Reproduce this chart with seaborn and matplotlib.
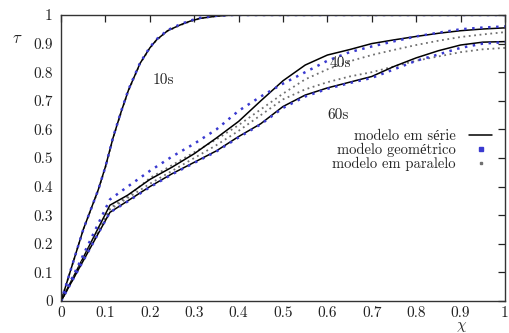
import numpy as np
import pandas as pd
import matplotlib
matplotlib.use('Agg')
import matplotlib.pyplot as plt
import matplotlib.ticker as ticker
from matplotlib.lines import Line2D
import seaborn as sns

# curvas (chi, tau)
x_10s = [0, 0.05, 0.084, 0.10, 0.117, 0.135, 0.152, 0.178, 0.2, 0.215, 0.24, 0.268, 0.29, 0.313, 0.35, 0.387, 0.5, 0.7, 1.0]
serie_10s = [0, 0.25, 0.39, 0.47, 0.57, 0.66, 0.738, 0.831, 0.885, 0.913, 0.945, 0.965, 0.978, 0.988, 0.996, 1.0, 1.0, 1.0, 1.0]
geom_10s = [0, 0.25, 0.39, 0.47, 0.572, 0.662, 0.74, 0.833, 0.887, 0.915, 0.947, 0.967, 0.98, 0.99, 0.997, 1.0, 1.0, 1.0, 1.0]
paral_10s = [0, 0.25, 0.388, 0.468, 0.568, 0.658, 0.736, 0.83, 0.884, 0.912, 0.944, 0.964, 0.977, 0.988, 0.996, 1.0, 1.0, 1.0, 1.0]

x_ref = [0, 0.11, 0.15, 0.2, 0.25, 0.3, 0.35, 0.4, 0.45, 0.5, 0.55, 0.6, 0.65, 0.7, 0.75, 0.8, 0.85, 0.9, 0.95, 1.0]
serie_40s = [0, 0.335, 0.37, 0.425, 0.468, 0.515, 0.57, 0.628, 0.70, 0.77, 0.825, 0.86, 0.879, 0.90, 0.913, 0.925, 0.936, 0.945, 0.951, 0.955]
geom_40s = [0, 0.355, 0.40, 0.455, 0.505, 0.55, 0.60, 0.665, 0.715, 0.76, 0.80, 0.84, 0.87, 0.89, 0.908, 0.925, 0.938, 0.95, 0.956, 0.96]
paral_40s = [0, 0.325, 0.365, 0.43, 0.475, 0.52, 0.565, 0.615, 0.67, 0.725, 0.775, 0.81, 0.838, 0.86, 0.878, 0.895, 0.91, 0.923, 0.932, 0.94]

serie_60s = [0, 0.31, 0.35, 0.40, 0.445, 0.485, 0.525, 0.575, 0.62, 0.68, 0.72, 0.745, 0.765, 0.785, 0.82, 0.85, 0.875, 0.895, 0.905, 0.907]
geom_60s = [0, 0.31, 0.348, 0.398, 0.443, 0.483, 0.523, 0.572, 0.618, 0.675, 0.715, 0.742, 0.762, 0.78, 0.81, 0.84, 0.862, 0.885, 0.9, 0.905]
paral_60s = [0, 0.32, 0.36, 0.41, 0.455, 0.50, 0.545, 0.595, 0.65, 0.705, 0.74, 0.765, 0.785, 0.80, 0.82, 0.84, 0.855, 0.87, 0.88, 0.885]

labels_tempo = ['10s', '40s', '60s']
ticks = [0, 0.1, 0.2, 0.3, 0.4, 0.5, 0.6, 0.7, 0.8, 0.9, 1]

sns.set_style('white')
plt.rcParams['font.family'] = ['cmr10', 'Liberation Serif']
plt.rcParams['mathtext.fontset'] = 'cm'
plt.rcParams['axes.unicode_minus'] = False

fig, ax = plt.subplots(figsize=(5.09, 3.33), dpi=100)
fig.subplots_adjust(left=0.12, right=0.992, bottom=0.096, top=0.955)

blue = '#3a3ad0'
gray = '#707070'

curvas = [(x_10s, serie_10s, geom_10s, paral_10s),
          (x_ref, serie_40s, geom_40s, paral_40s),
          (x_ref, serie_60s, geom_60s, paral_60s)]

for xs, s, g, p in curvas:
    df = pd.DataFrame({'chi': xs, 'serie': s, 'geom': g, 'paral': p})
    sns.lineplot(data=df, x='chi', y='paral', color=gray, lw=1.3, ls=(0, (1, 2)), ax=ax, sort=False)
    sns.lineplot(data=df, x='chi', y='serie', color='black', lw=1.1, ax=ax, sort=False)
    sns.lineplot(data=df, x='chi', y='geom', color=blue, lw=1.8, ls=(0, (1, 2.2)), ax=ax, sort=False)

ax.text(0.207, 0.773, labels_tempo[0], fontsize=11, va='center')
ax.text(0.604, 0.832, labels_tempo[1], fontsize=11, va='center')
ax.text(0.600, 0.650, labels_tempo[2], fontsize=11, va='center')

ax.set_xlim(0, 1)
ax.set_ylim(0, 1)
ax.xaxis.set_major_locator(ticker.FixedLocator(ticks))
ax.yaxis.set_major_locator(ticker.FixedLocator(ticks))
fmt = ticker.FuncFormatter(lambda v, pos: '{:g}'.format(v))
ax.xaxis.set_major_formatter(fmt)
ax.yaxis.set_major_formatter(fmt)
ax.tick_params(direction='in', top=True, right=True, length=5, width=0.9,
               labelsize=11, pad=6, colors='#222222')
ax.tick_params(axis='x', pad=4)
for sp in ax.spines.values():
    sp.set_linewidth(1.0)
    sp.set_color('#333333')

ax.set_xlabel(r'$\chi$', fontsize=11)
ax.set_ylabel(r'$\tau$', fontsize=12, rotation=0)
ax.xaxis.set_label_coords(0.903, -0.066)
ax.yaxis.set_label_coords(-0.099, 0.89)

handles = [Line2D([], [], color='black', lw=1.1),
           Line2D([], [], color=blue, lw=0, marker='s', markersize=2.2),
           Line2D([], [], color=gray, lw=0, marker='s', markersize=1.6)]
leg = ax.legend(handles, ['modelo em série', 'modelo geométrico', 'modelo em paralelo'],
                loc='upper right', bbox_to_anchor=(0.985, 0.622), markerfirst=False,
                frameon=False, fontsize=10.5, handlelength=1.6, handletextpad=0.9,
                labelspacing=0.0, borderaxespad=0)

plt.savefig('out.png', dpi=100)
